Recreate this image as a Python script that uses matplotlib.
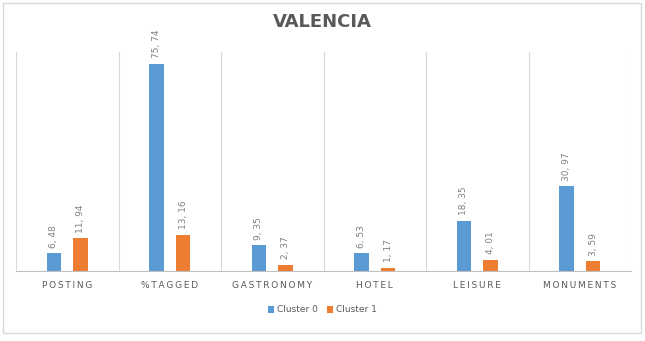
import numpy as np
import matplotlib
matplotlib.use('Agg')
import matplotlib.pyplot as plt
from matplotlib.patches import Rectangle

categories = ['POSTING', '%TAGGED', 'GASTRONOMY', 'HOTEL', 'LEISURE', 'MONUMENTS']
cluster0 = [6.48, 75.74, 9.35, 6.53, 18.35, 30.97]
cluster1 = [11.94, 13.16, 2.37, 1.17, 4.01, 3.59]
series_names = ['Cluster 0', 'Cluster 1']

blue = '#5B9BD5'
orange = '#ED7D31'

fig = plt.figure(figsize=(6.45, 3.41), dpi=100)
ax = fig.add_axes([16/645, 70/341, 615/645, 219/341])

x = np.arange(len(categories))
w = 0.14
b0 = ax.bar(x - 0.13, cluster0, w, color=blue, label=series_names[0])
b1 = ax.bar(x + 0.13, cluster1, w, color=orange, label=series_names[1])

def fmt(v):
    return ('%.2f' % v).replace('.', ', ')

for bars, vals in [(b0, cluster0), (b1, cluster1)]:
    for r, v in zip(bars, vals):
        ax.annotate(fmt(v), (r.get_x() + r.get_width()/2, v), xytext=(0, 4),
                    textcoords='offset points', rotation=90, ha='center', va='bottom',
                    fontsize=6.5, color='#808080')

ax.set_xlim(-0.5, len(categories) - 0.5)
ax.set_ylim(0, 80)
ax.set_yticks([])
ax.set_xticks(x)
ax.set_xticklabels(['\u2009'.join(c) for c in categories], fontsize=6.5, color='#595959')
ax.tick_params(axis='x', length=0, pad=7)

# category separators
for s in np.arange(-0.5, len(categories), 1.0):
    ax.axvline(s, color='#d9d9d9', lw=0.8, zorder=0)

for sp in ['top', 'left', 'right']:
    ax.spines[sp].set_visible(False)
ax.spines['bottom'].set_color('#bfbfbf')
ax.spines['bottom'].set_linewidth(0.8)

fig.text(0.5, 1 - 22/341, 'VALENCIA', ha='center', va='center', fontsize=13,
         fontweight='bold', color='#595959')

leg = fig.legend(handles=[b0, b1], loc='center', bbox_to_anchor=(0.5, 1 - 310/341),
                 ncol=2, frameon=False, fontsize=6.5, handlelength=0.7, handleheight=0.7,
                 handletextpad=0.3, columnspacing=1.0)
for t in leg.get_texts():
    t.set_color('#595959')

fig.patches.append(Rectangle((3/645, 8/341), 638/645, 330/341, transform=fig.transFigure,
                             fill=False, edgecolor='#d9d9d9', lw=1))

fig.savefig('out.png', dpi=100)
